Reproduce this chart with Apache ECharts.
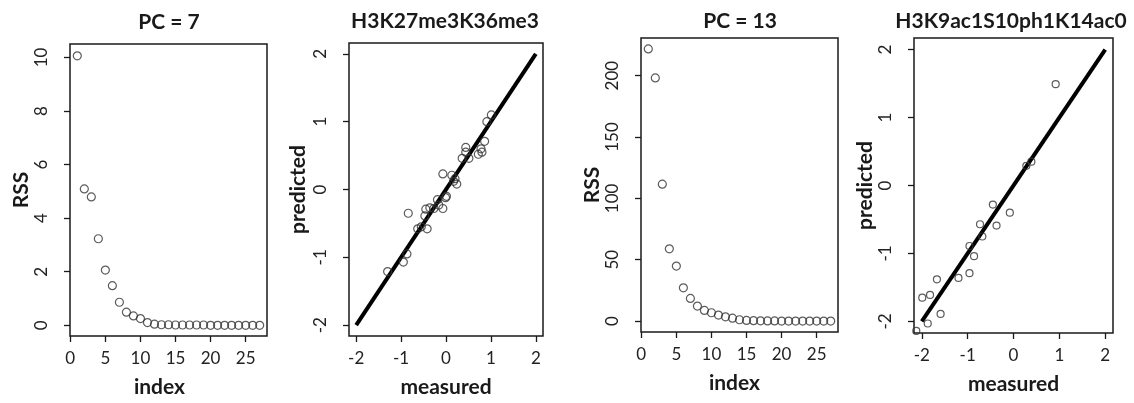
<!DOCTYPE html>
<html>
<head>
<meta charset="UTF-8">
<title></title>
<script src="https://cdn.jsdelivr.net/npm/echarts@6/dist/echarts.min.js"></script>
<style>
  html, body { margin: 0; padding: 0; background: #fff; }
</style>
</head>
<body>
<div id="main" style="width:1134px;height:403px;"></div>
<script type="text/javascript">
// index of the component
var indexVals = [1, 2, 3, 4, 5, 6, 7, 8, 9, 10, 11, 12, 13, 14, 15, 16, 17, 18, 19, 20, 21, 22, 23, 24, 25, 26, 27];
// RSS, PC = 7
var rss7 = [10.06, 5.09, 4.79, 3.23, 2.06, 1.48, 0.86, 0.49, 0.35, 0.25, 0.10, 0.04, 0.02, 0.02, 0.01, 0.01, 0.01, 0.01, 0.01, 0, 0, 0, 0, 0, 0, 0, 0];
// RSS, PC = 13
var rss13 = [221.8, 198.2, 111.6, 58.9, 44.8, 27.1, 18.5, 12.2, 8.7, 6.8, 4.9, 3.5, 2.4, 1.1, 0.5, 0.3, 0.2, 0.1, 0.1, 0, 0, 0, 0, 0, 0, 0, 0];

// H3K27me3K36me3: measured / predicted
var meas27 = [1.01, 0.91, 0.86, 0.78, 0.80, 0.72, 0.44, 0.44, 0.51, 0.36, -0.07, 0.13, 0.20, 0.24, 0.17, 0.01, -0.01, -0.19, -0.16, -0.07, -0.27, -0.36, -0.45, -0.47, -0.84, -0.63, -0.55, -0.42, -0.87, -0.95, -1.30];
var pred27 = [1.10, 1.00, 0.71, 0.60, 0.55, 0.52, 0.62, 0.55, 0.46, 0.46, 0.23, 0.21, 0.16, 0.08, 0.12, -0.10, -0.12, -0.15, -0.23, -0.28, -0.28, -0.27, -0.29, -0.39, -0.35, -0.58, -0.55, -0.58, -0.95, -1.07, -1.21];

// H3K9ac1S10ph1K14ac0: measured / predicted
var meas9 = [0.92, 0.28, 0.39, -0.45, -0.08, -0.73, -0.37, -0.68, -0.96, -0.86, -0.96, -1.20, -1.67, -1.82, -1.99, -1.59, -1.87, -2.12];
var pred9 = [1.49, 0.29, 0.35, -0.28, -0.40, -0.57, -0.59, -0.75, -0.89, -1.04, -1.29, -1.36, -1.38, -1.61, -1.65, -1.89, -2.03, -2.14];

// identity line
var diagX = [-2, 2];
var diagY = [-2, 2];

var indexTicks = [0, 5, 10, 15, 20, 25];
var rss7Ticks = [0, 2, 4, 6, 8, 10];
var rss13Ticks = [0, 50, 100, 150, 200];
var unitTicks = [-2, -1, 0, 1, 2];

var titles = ['PC = 7', 'H3K27me3K36me3', 'PC = 13', 'H3K9ac1S10ph1K14ac0'];

function pairs(xs, ys) {
    var out = [];
    for (var i = 0; i < xs.length; i++) out.push([xs[i], ys[i]]);
    return out;
}

var FONT = 'Lato';
var ink = '#1a1a1a';

function xAxis(gi, min, max, ticks, name, pad) {
    return {
        gridIndex: gi, type: 'value', min: min, max: max,
        name: name, nameLocation: 'middle', nameGap: 41,
        nameTextStyle: { fontFamily: FONT, fontWeight: 'bold', fontSize: 21, color: ink, padding: pad || 0 },
        axisLine: { show: false, onZero: false },
        axisTick: { show: true, length: 6, customValues: ticks, lineStyle: { color: ink, width: 1.3 } },
        axisLabel: { customValues: ticks, margin: 14, fontFamily: FONT, fontSize: 17, color: '#222' },
        splitLine: { show: false }
    };
}
function yAxis(gi, min, max, ticks, name, gap) {
    return {
        gridIndex: gi, type: 'value', min: min, max: max,
        name: name, nameLocation: 'middle', nameGap: gap, nameRotate: 90,
        nameTextStyle: { fontFamily: FONT, fontWeight: 'bold', fontSize: 21, color: ink },
        axisLine: { show: false, onZero: false },
        axisTick: { show: true, length: 6, customValues: ticks, lineStyle: { color: ink, width: 1.3 } },
        axisLabel: { customValues: ticks, rotate: 90, margin: 20, fontFamily: FONT, fontSize: 17, color: '#222' },
        splitLine: { show: false }
    };
}

var gridBox = { show: true, borderColor: ink, borderWidth: 1.5, backgroundColor: 'transparent', containLabel: false };
function grid(l, t, w, h) {
    return Object.assign({ left: l, top: t, width: w, height: h }, gridBox);
}

var dots = { color: 'transparent', borderColor: '#333', borderWidth: 1.2 };

var myChart = echarts.init(document.getElementById('main'), null, { renderer: 'canvas' });
myChart.setOption({
    backgroundColor: '#fff',
    animation: false,
    title: [
        { text: titles[0], left: 169, top: 12 },
        { text: titles[1], left: 445, top: 11 },
        { text: titles[2], left: 740, top: 11 },
        { text: titles[3], left: 1011, top: 11 }
    ].map(function (t) {
        t.textAlign = 'center';
        t.padding = 0;
        t.textStyle = { fontFamily: FONT, fontWeight: 'bold', fontSize: 21, color: ink };
        return t;
    }),
    grid: [
        grid(70, 44, 197, 293),
        grid(349, 43, 194, 294),
        grid(641, 38, 197, 294),
        grid(914, 38, 199, 295)
    ],
    xAxis: [
        xAxis(0, -0.04, 28.04, indexTicks, 'index', [0, 18, 0, 0]),
        xAxis(1, -2.16, 2.16, unitTicks, 'measured'),
        xAxis(2, -0.04, 28.04, indexTicks, 'index', [0, 10, 0, 0]),
        xAxis(3, -2.17, 2.17, unitTicks, 'measured')
    ],
    yAxis: [
        yAxis(0, -0.4, 10.5, rss7Ticks, 'RSS', 38),
        yAxis(1, -2.16, 2.16, unitTicks, 'predicted', 40),
        yAxis(2, -8.9, 230.7, rss13Ticks, 'RSS', 37),
        yAxis(3, -2.17, 2.17, unitTicks, 'predicted', 36)
    ],
    series: [
        { type: 'scatter', xAxisIndex: 0, yAxisIndex: 0, symbol: 'circle', symbolSize: 8, itemStyle: dots, data: pairs(indexVals, rss7) },
        { type: 'line', xAxisIndex: 1, yAxisIndex: 1, symbol: 'none', lineStyle: { color: '#000', width: 4 }, data: pairs(diagX, diagY), z: 1 },
        { type: 'scatter', xAxisIndex: 1, yAxisIndex: 1, symbol: 'circle', symbolSize: 8, itemStyle: dots, data: pairs(meas27, pred27), z: 2 },
        { type: 'scatter', xAxisIndex: 2, yAxisIndex: 2, symbol: 'circle', symbolSize: 8, itemStyle: dots, data: pairs(indexVals, rss13) },
        { type: 'line', xAxisIndex: 3, yAxisIndex: 3, symbol: 'none', lineStyle: { color: '#000', width: 4 }, data: pairs(diagX, diagY), z: 1 },
        { type: 'scatter', xAxisIndex: 3, yAxisIndex: 3, symbol: 'circle', symbolSize: 7, itemStyle: dots, data: pairs(meas9, pred9), z: 2 }
    ]
});
</script>
</body>
</html>
